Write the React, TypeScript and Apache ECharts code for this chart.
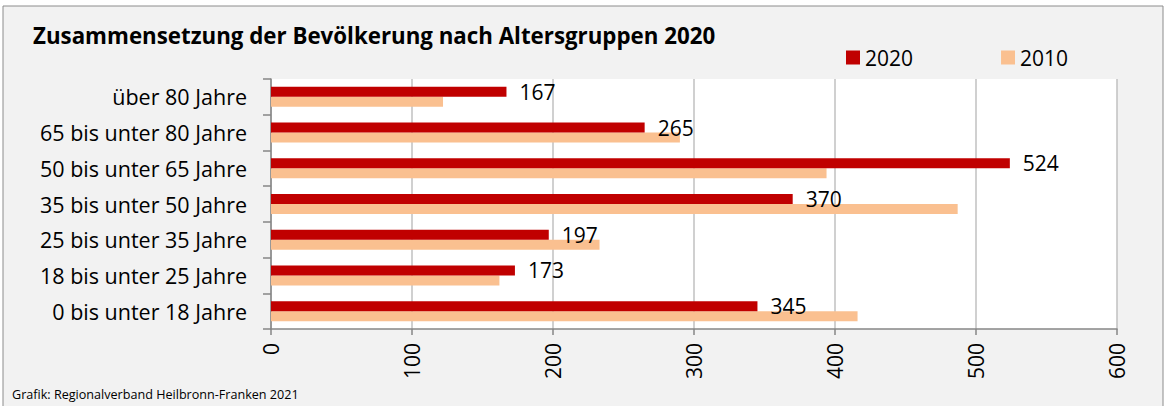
import React, { useEffect, useRef } from "react";
import * as echarts from "echarts";

const categories = [
  "über 80 Jahre",
  "65 bis unter 80 Jahre",
  "50 bis unter 65 Jahre",
  "35 bis unter 50 Jahre",
  "25 bis unter 35 Jahre",
  "18 bis unter 25 Jahre",
  "0 bis unter 18 Jahre",
];
const values2020 = [167, 265, 524, 370, 197, 173, 345];
const values2010 = [122, 290, 394, 487, 233, 162, 416];
const seriesNames = ["2020", "2010"];
const titleText = "Zusammensetzung der Bevölkerung nach Altersgruppen 2020";
const footerText = "Grafik: Regionalverband Heilbronn-Franken 2021";

const FONT = "'Open Sans', 'Noto Sans', sans-serif";

export default function App() {
  const ref = useRef<HTMLDivElement>(null);
  useEffect(() => {
    if (!ref.current) return;
    const chart = echarts.init(ref.current, undefined, { renderer: "svg" });
    chart.setOption({
      animation: false,
      backgroundColor: "#ffffff",
      textStyle: { fontFamily: FONT },
      title: {
        text: titleText,
        left: 33,
        top: 24,
        padding: 0,
        textStyle: { fontFamily: FONT, fontSize: 22.3, fontWeight: "bold", color: "#000" },
      },
      legend: {
        data: seriesNames,
        left: 846,
        top: 47,
        padding: 0,
        icon: "rect",
        itemWidth: 14,
        itemHeight: 14,
        itemGap: 88,
        textStyle: { fontFamily: FONT, fontSize: 21, color: "#000" },
      },
      graphic: [
        {
          type: "rect",
          z: -10,
          silent: true,
          shape: { x: 3, y: 6, width: 1160, height: 420 },
          style: { fill: "#f2f2f2", stroke: "#8c8c8c", lineWidth: 1 },
        },
        {
          type: "text",
          left: 12,
          top: 388,
          style: { text: footerText, font: `12.6px ${FONT}`, fill: "#000" },
        },
      ],
      grid: {
        left: 271,
        right: 48,
        top: 79,
        bottom: 77,
        show: true,
        backgroundColor: "#ffffff",
        borderWidth: 0,
      },
      xAxis: {
        type: "value",
        min: 0,
        max: 600,
        interval: 100,
        axisLine: { show: true, lineStyle: { color: "#868686", width: 1.5 } },
        axisTick: { show: true, length: 6, lineStyle: { color: "#868686", width: 1.5 } },
        splitLine: { show: true, lineStyle: { color: "#c0c0c0", width: 1.5 } },
        axisLabel: { rotate: 90, margin: 14, fontSize: 21, color: "#000", fontFamily: FONT },
      },
      yAxis: {
        type: "category",
        data: categories,
        inverse: true,
        axisLine: { show: true, lineStyle: { color: "#868686", width: 1.5 } },
        axisTick: { show: true, length: 8, lineStyle: { color: "#868686", width: 1.5 } },
        axisLabel: { margin: 24, fontSize: 21.5, color: "#000", fontFamily: FONT },
        splitLine: { show: false },
      },
      series: [
        {
          name: seriesNames[0],
          type: "bar",
          data: values2020,
          barWidth: 10,
          barGap: "0%",
          itemStyle: { color: "#c00000" },
          label: {
            show: true,
            position: "right",
            distance: 13,
            fontSize: 21,
            color: "#000",
            fontFamily: FONT,
          },
          z: 2,
        },
        {
          name: seriesNames[1],
          type: "bar",
          data: values2010,
          barWidth: 10,
          barGap: "0%",
          itemStyle: { color: "#fac090" },
          z: 1,
        },
      ],
    });
    return () => chart.dispose();
  }, []);
  return (
    <div
      ref={ref}
      style={{ position: "fixed", left: 0, top: 0, width: 1165, height: 406, background: "#fff" }}
    />
  );
}
